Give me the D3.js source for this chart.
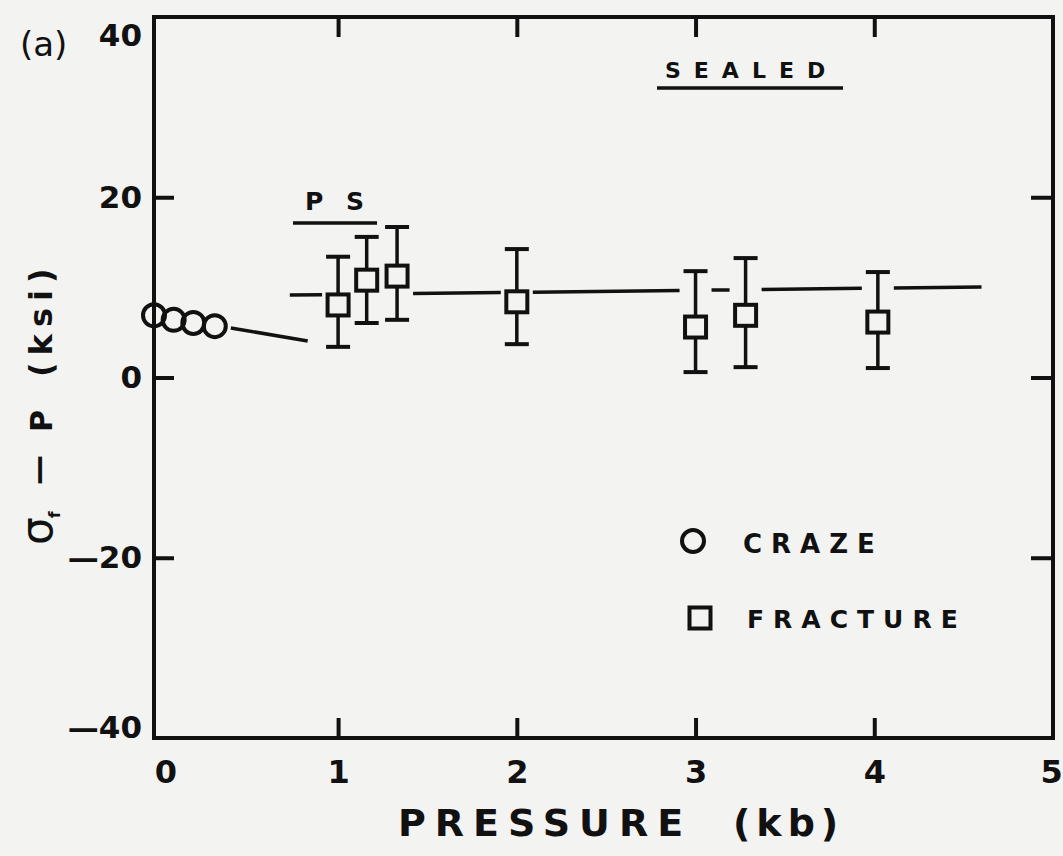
<!DOCTYPE html>
<html>
<head>
<meta charset="utf-8">
<script src="https://cdn.jsdelivr.net/npm/d3@7"></script>
<style>
  html, body { margin: 0; padding: 0; background: #f3f3f1; }
  svg { display: block; }
  text { font-family: "DejaVu Sans", sans-serif; font-weight: bold; fill: #111; }
</style>
</head>
<body>
<div id="chart"></div>
<script>
// craze points (open circles) and the short line after them
var crazeP = [-0.03, 0.08, 0.19, 0.31];
var crazeS = [6.9, 6.4, 6.05, 5.7];
var crazeLineP = [0.40, 0.83];
var crazeLineS = [5.5, 4.05];

// fracture points (open squares) with error bars
var fracP = [1.0, 1.16, 1.33, 2.0, 3.0, 3.28, 4.02];
var fracS = [8.05, 10.8, 11.25, 8.4, 5.6, 6.9, 6.15];
var fracLo = [3.4, 6.05, 6.4, 3.7, 0.6, 1.15, 1.05];
var fracHi = [13.4, 15.6, 16.7, 14.25, 11.8, 13.25, 11.7];

// mean line through fracture data
var fitP = [0.73, 4.60];
var fitS = [9.15, 10.05];

var xTicks = [0, 1, 2, 3, 4, 5];
var yTicks = [40, 20, 0, -20, -40];

var width = 1063, height = 856;
var ink = "#111";

var svg = d3.select("#chart").append("svg")
    .attr("width", width)
    .attr("height", height);

var x = d3.scaleLinear().domain([-0.03, 5]).range([154, 1053]);
var y = d3.scaleLinear().domain([-40, 40]).range([738, 17]);

// frame
svg.append("rect")
    .attr("x", x(-0.03)).attr("y", y(40))
    .attr("width", x(5) - x(-0.03)).attr("height", y(-40) - y(40))
    .attr("fill", "none").attr("stroke", ink).attr("stroke-width", 4);

function styleAxis(g) {
    g.select(".domain").remove();
    g.selectAll(".tick line").attr("stroke", ink).attr("stroke-width", 4);
    g.selectAll(".tick text").attr("fill", ink)
        .style("font-family", "'DejaVu Sans', sans-serif")
        .style("font-weight", "bold");
}

// left axis with labels
var yAxis = svg.append("g")
    .attr("transform", "translate(" + x(-0.03) + ",0)")
    .call(d3.axisLeft(y).tickValues(yTicks).tickSizeInner(-20).tickSizeOuter(0).tickPadding(12)
        .tickFormat(function(d) { return d < 0 ? "\u2014" + (-d) : d; }))
    .call(styleAxis);
yAxis.selectAll(".tick text").style("font-size", "31px");
yAxis.selectAll(".tick").filter(function(d) { return d === 40 || d === -40; }).select("line").remove();
yAxis.selectAll(".tick").filter(function(d) { return d === 40; }).select("text").attr("y", 19);
yAxis.selectAll(".tick").filter(function(d) { return d === -40; }).select("text").attr("y", -10);

// bottom axis with labels
var xAxis = svg.append("g")
    .attr("transform", "translate(0," + y(-40) + ")")
    .call(d3.axisBottom(x).tickValues(xTicks).tickSizeInner(-20).tickSizeOuter(0).tickPadding(22)
        .tickFormat(d3.format("d")))
    .call(styleAxis);
xAxis.selectAll(".tick text").style("font-size", "32px");
xAxis.selectAll(".tick").filter(function(d) { return d === 0 || d === 5; }).select("line").remove();
xAxis.selectAll(".tick").filter(function(d) { return d === 0; }).select("text").attr("x", 6);
xAxis.selectAll(".tick").filter(function(d) { return d === 5; }).select("text").attr("x", -2);

// top and right ticks (no labels)
svg.append("g")
    .attr("transform", "translate(0," + y(40) + ")")
    .call(d3.axisTop(x).tickValues([1, 2, 3, 4]).tickSizeInner(-20).tickSizeOuter(0).tickFormat(""))
    .call(styleAxis);
svg.append("g")
    .attr("transform", "translate(" + x(5) + ",0)")
    .call(d3.axisRight(y).tickValues([20, 0, -20]).tickSizeInner(-22).tickSizeOuter(0).tickFormat(""))
    .call(styleAxis);

// mean line, broken around each error bar
var gap = 16;
var cuts = fracP.map(function(p) { return [x(p) - gap, x(p) + gap]; });
var fitX0 = x(fitP[0]), fitX1 = x(fitP[1]);
var fitY = d3.scaleLinear().domain([fitX0, fitX1]).range([y(fitS[0]), y(fitS[1])]);
var segs = [], cur = fitX0;
cuts.forEach(function(c) {
    if (c[0] > cur) segs.push([cur, c[0]]);
    cur = Math.max(cur, c[1]);
});
if (cur < fitX1) segs.push([cur, fitX1]);
svg.selectAll(".fit").data(segs).enter().append("line")
    .attr("class", "fit")
    .attr("x1", function(d) { return d[0]; }).attr("x2", function(d) { return d[1]; })
    .attr("y1", function(d) { return fitY(d[0]); }).attr("y2", function(d) { return fitY(d[1]); })
    .attr("stroke", ink).attr("stroke-width", 3.5);

// craze line
svg.append("line")
    .attr("x1", x(crazeLineP[0])).attr("y1", y(crazeLineS[0]))
    .attr("x2", x(crazeLineP[1])).attr("y2", y(crazeLineS[1]))
    .attr("stroke", ink).attr("stroke-width", 3.5);

// craze circles
svg.selectAll(".craze").data(crazeP).enter().append("circle")
    .attr("class", "craze")
    .attr("cx", function(d) { return x(d); })
    .attr("cy", function(d, i) { return y(crazeS[i]); })
    .attr("r", 11)
    .attr("fill", "none").attr("stroke", ink).attr("stroke-width", 4);

// fracture error bars
var cap = 12;
var bars = svg.selectAll(".bar").data(fracP).enter().append("g").attr("class", "bar");
bars.append("line")
    .attr("x1", function(d) { return x(d); }).attr("x2", function(d) { return x(d); })
    .attr("y1", function(d, i) { return y(fracHi[i]); }).attr("y2", function(d, i) { return y(fracLo[i]); })
    .attr("stroke", ink).attr("stroke-width", 3.5);
bars.append("line")
    .attr("x1", function(d) { return x(d) - cap; }).attr("x2", function(d) { return x(d) + cap; })
    .attr("y1", function(d, i) { return y(fracHi[i]); }).attr("y2", function(d, i) { return y(fracHi[i]); })
    .attr("stroke", ink).attr("stroke-width", 4);
bars.append("line")
    .attr("x1", function(d) { return x(d) - cap; }).attr("x2", function(d) { return x(d) + cap; })
    .attr("y1", function(d, i) { return y(fracLo[i]); }).attr("y2", function(d, i) { return y(fracLo[i]); })
    .attr("stroke", ink).attr("stroke-width", 4);
var sq = 21;
bars.append("rect")
    .attr("x", function(d) { return x(d) - sq / 2; })
    .attr("y", function(d, i) { return y(fracS[i]) - sq / 2; })
    .attr("width", sq).attr("height", sq)
    .attr("fill", "#f3f3f1").attr("stroke", ink).attr("stroke-width", 4);

// annotations
svg.append("text").attr("x", 305).attr("y", 210)
    .style("font-size", "25px").style("letter-spacing", "7px").text("P S");
svg.append("line").attr("x1", 293).attr("x2", 377).attr("y1", 223).attr("y2", 223)
    .attr("stroke", ink).attr("stroke-width", 3.5);

svg.append("text").attr("x", 665).attr("y", 78)
    .style("font-size", "22px").style("letter-spacing", "13px").text("SEALED");
svg.append("line").attr("x1", 657).attr("x2", 843).attr("y1", 88).attr("y2", 88)
    .attr("stroke", ink).attr("stroke-width", 3.5);

svg.append("text").attr("x", 20).attr("y", 56)
    .style("font-size", "34px").style("font-weight", "normal").text("(a)");

// legend
svg.append("circle").attr("cx", 693).attr("cy", 541).attr("r", 11)
    .attr("fill", "none").attr("stroke", ink).attr("stroke-width", 4);
svg.append("text").attr("x", 743).attr("y", 553)
    .style("font-size", "26px").style("letter-spacing", "9px").text("CRAZE");
svg.append("rect").attr("x", 700 - sq / 2).attr("y", 618 - sq / 2).attr("width", sq).attr("height", sq)
    .attr("fill", "none").attr("stroke", ink).attr("stroke-width", 4);
svg.append("text").attr("x", 747).attr("y", 628)
    .style("font-size", "25px").style("letter-spacing", "9px").text("FRACTURE");

// x title
svg.append("text").attr("x", 398).attr("y", 836)
    .style("font-size", "38px").style("letter-spacing", "9px").text("PRESSURE");
svg.append("text").attr("x", 733).attr("y", 836)
    .style("font-size", "38px").style("letter-spacing", "6px").text("(kb)");

// y title, rotated
var yt = svg.append("g").attr("transform", "translate(52,545) rotate(-90)");
yt.append("text").attr("x", 0).attr("y", 0).style("font-size", "44px").style("font-weight", "normal").text("\u03c3");
yt.append("text").attr("x", 27).attr("y", 8).style("font-size", "15px").text("f");
yt.append("text").attr("x", 60).attr("y", -4).style("font-size", "30px").text("\u2014");
yt.append("text").attr("x", 113).attr("y", 0).style("font-size", "30px").text("P");
yt.append("text").attr("x", 168).attr("y", 0)
    .style("font-size", "32px").style("letter-spacing", "7px").text("(ksi)");
</script>
</body>
</html>
